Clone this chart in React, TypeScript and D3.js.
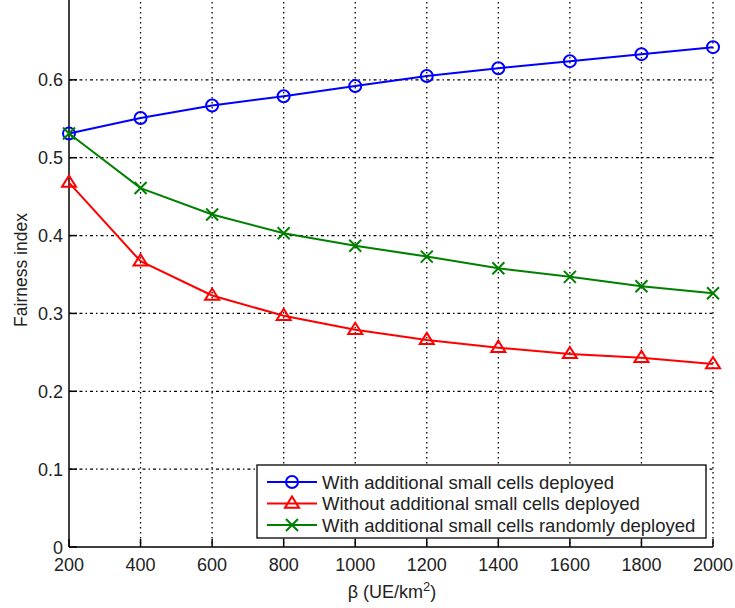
import React from "react";
import * as d3 from "d3";

const betas = [200, 400, 600, 800, 1000, 1200, 1400, 1600, 1800, 2000];
const withCells = [0.531, 0.551, 0.567, 0.579, 0.592, 0.605, 0.615, 0.624, 0.633, 0.642];
const withoutCells = [0.468, 0.367, 0.323, 0.297, 0.279, 0.266, 0.256, 0.248, 0.243, 0.235];
const randomCells = [0.531, 0.461, 0.427, 0.403, 0.387, 0.373, 0.358, 0.347, 0.335, 0.326];
const yTicks = [0, 0.1, 0.2, 0.3, 0.4, 0.5, 0.6];
const xTicks = [200, 400, 600, 800, 1000, 1200, 1400, 1600, 1800, 2000];
const legendLabels = [
  "With additional small cells deployed",
  "Without additional small cells deployed",
  "With additional small cells randomly deployed",
];

const L = 69, R = 713, T = 2, B = 547;
const FONT = "'Liberation Sans', Arial, sans-serif";

function Marker({ kind, x, y, color }: { kind: string; x: number; y: number; color: string }) {
  if (kind === "o") return <circle cx={x} cy={y} r={6} fill="none" stroke={color} strokeWidth={2} />;
  if (kind === "^") {
    const s = 7;
    return (
      <path
        d={`M${x},${y - s} L${x + s},${y + s * 0.6} L${x - s},${y + s * 0.6} Z`}
        fill="none"
        stroke={color}
        strokeWidth={2}
      />
    );
  }
  const s = 6;
  return (
    <path d={`M${x - s},${y - s} L${x + s},${y + s} M${x - s},${y + s} L${x + s},${y - s}`} stroke={color} strokeWidth={2} />
  );
}

export default function App() {
  const x = d3.scaleLinear().domain([200, 2000]).range([L, R]);
  const y = d3.scaleLinear().domain([0, 0.7]).range([B, T]);
  const line = d3
    .line<number>()
    .x((_, i) => x(betas[i]))
    .y((d) => y(d));
  const series = [
    { data: withCells, color: "#0000ff", kind: "o" },
    { data: withoutCells, color: "#ff0000", kind: "^" },
    { data: randomCells, color: "#008000", kind: "x" },
  ];
  const textColor = "#222";
  return (
    <svg width={735} height={608} style={{ position: "absolute", left: 0, top: 0 }} fontFamily={FONT}>
      <rect width={735} height={608} fill="#fff" />
      {/* grid */}
      {xTicks.slice(1).map((t) => (
        <line key={"gx" + t} x1={x(t)} x2={x(t)} y1={T} y2={B} stroke="#000" strokeWidth={1.3} strokeDasharray="1.5,3.5" />
      ))}
      {yTicks.slice(1).map((t) => (
        <line key={"gy" + t} x1={L} x2={R} y1={y(t)} y2={y(t)} stroke="#000" strokeWidth={1.3} strokeDasharray="3,3,1.5,3" />
      ))}
      {/* axes */}
      <line x1={L} x2={L} y1={T - 2} y2={B} stroke="#000" strokeWidth={1.5} />
      <line x1={L} x2={R} y1={B} y2={B} stroke="#000" strokeWidth={1.5} />
      {yTicks.map((t) => (
        <g key={"yt" + t}>
          <line x1={L} x2={L + 8} y1={y(t)} y2={y(t)} stroke="#000" strokeWidth={1.5} />
          <text x={63} y={y(t) + 6.5} textAnchor="end" fontSize={18} fill={textColor}>
            {t === 0 ? "0" : t.toFixed(1)}
          </text>
        </g>
      ))}
      {xTicks.map((t) => (
        <g key={"xt" + t}>
          <line x1={x(t)} x2={x(t)} y1={B} y2={B - 8} stroke="#000" strokeWidth={1.5} />
          <text x={x(t)} y={571} textAnchor="middle" fontSize={18} fill={textColor}>
            {t}
          </text>
        </g>
      ))}
      {/* axis labels */}
      <text transform={`translate(27,${270}) rotate(-90)`} textAnchor="middle" fontSize={17.5} fill={textColor}>
        Fairness index
      </text>
      <text x={392} y={598} textAnchor="middle" fontSize={18} fill={textColor}>
        β (UE/km<tspan dy={-7} fontSize={13}>2</tspan>
        <tspan dy={7}>)</tspan>
      </text>
      {/* series */}
      {series.map((s, si) => (
        <g key={"s" + si}>
          <path d={line(s.data) || ""} fill="none" stroke={s.color} strokeWidth={2} />
          {s.data.map((v, i) => (
            <Marker key={i} kind={s.kind} x={x(betas[i])} y={y(v)} color={s.color} />
          ))}
        </g>
      ))}
      {/* legend */}
      <rect x={257} y={465} width={449} height={73} fill="#fff" stroke="#000" strokeWidth={1.3} />
      {series.map((s, i) => {
        const ly = 482 + i * 21.5;
        return (
          <g key={"l" + i}>
            <line x1={267} x2={317} y1={ly} y2={ly} stroke={s.color} strokeWidth={2} />
            <Marker kind={s.kind} x={292} y={ly} color={s.color} />
            <text x={322} y={ly + 6.5} fontSize={18.5} fill={textColor}>
              {legendLabels[i]}
            </text>
          </g>
        );
      })}
    </svg>
  );
}
